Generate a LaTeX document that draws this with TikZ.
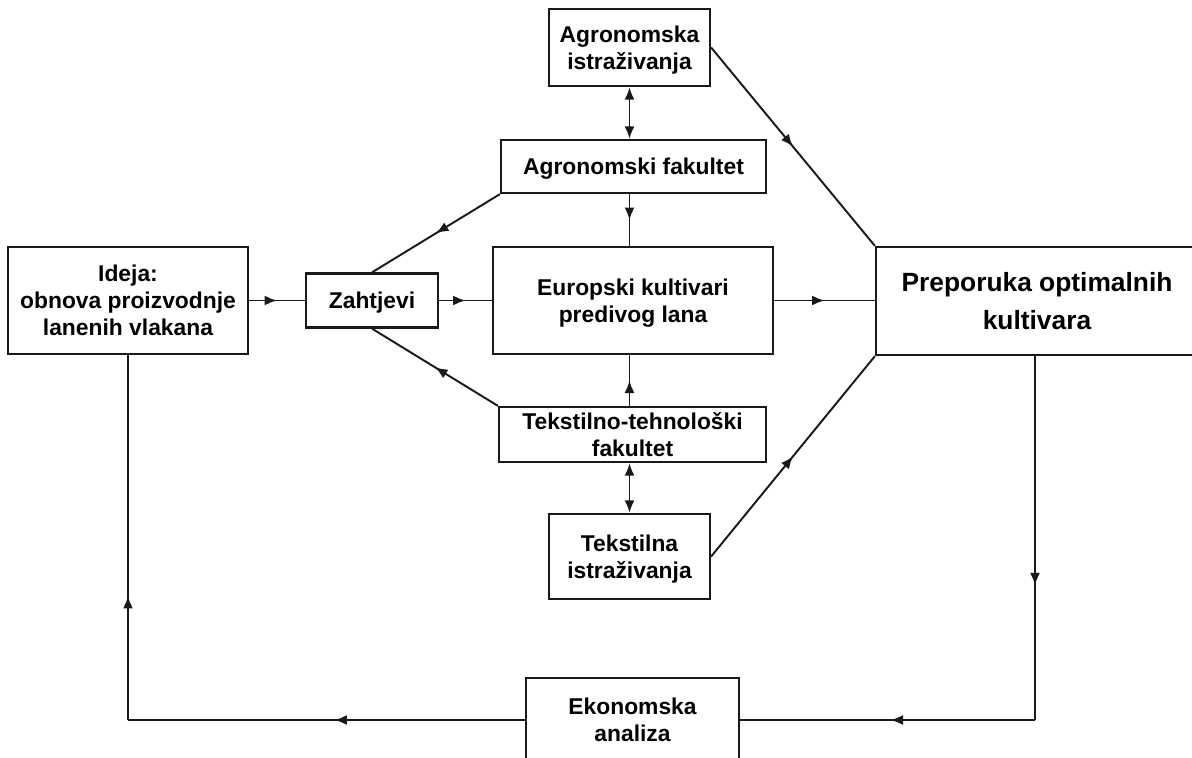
\documentclass[tikz,border=0pt]{standalone}
\usepackage{fontspec}
\setmainfont{Liberation Sans}
\usetikzlibrary{arrows.meta,decorations.markings}
\definecolor{ink}{RGB}{25,25,25}

\begin{document}
\begin{tikzpicture}[x=0.02cm,y=-0.02cm,>={Latex[length=2.5mm,width=2mm]},
  box/.style={draw=ink,line width=1.3pt,inner sep=0pt,text depth=0pt,align=center,font=\fontsize{13}{15.4}\selectfont\bfseries},
  line/.style={draw=ink,line width=1.1pt},
  flow/.style={line,postaction={decorate},decoration={markings,mark=at position #1 with {\arrow{>}}}},
  flow/.default=0.5]
\useasboundingbox (0,0) rectangle (1192,757);
% boxes
\node[box,minimum width=4.8cm,minimum height=2.14cm] (ideja) at (128,300.5) {Ideja:\\obnova proizvodnje\\lanenih vlakana};
\node[box,minimum width=2.64cm,minimum height=1.08cm] (zaht) at (372,300.5) {Zahtjevi};
\node[box,minimum width=5.6cm,minimum height=2.14cm] (europ) at (633,300.5) {Europski kultivari\\predivog lana};
\node[box,minimum width=5.3cm,minimum height=1.06cm] (agfak) at (633.5,166.5) {Agronomski fakultet};
\node[box,minimum width=3.22cm,minimum height=1.54cm] (agistr) at (629.5,47.5) {Agronomska\\istraživanja};
\node[box,minimum width=5.34cm,minimum height=1.1cm] (tekfak) at (632.5,434.5) {Tekstilno-tehnološki\\fakultet};
\node[box,minimum width=3.22cm,minimum height=1.7cm] (tekistr) at (629.5,556.5) {Tekstilna\\istraživanja};
\node[box,minimum width=6.44cm,minimum height=2.16cm,font=\fontsize{15}{22}\selectfont\bfseries] (prep) at (1037,301) {Preporuka optimalnih\\kultivara};
\node[box,minimum width=4.26cm,minimum height=1.68cm] (ekon) at (632.5,720) {Ekonomska\\analiza};
\coordinate (rb) at (1035,720);
\coordinate (lb) at (ideja.south |- ekon);
% connectors
\draw[flow] (ideja) -- (zaht);
\draw[flow] (zaht) -- (europ);
\draw[flow] (europ.east) -- (europ.east -| prep.west);
\draw[line,<->] (agistr) -- (agfak.north -| agistr);
\draw[flow] (agfak.south -| agistr) -- (europ.north -| agistr);
\draw[flow] (tekfak.north -| tekistr) -- (europ.south -| tekistr);
\draw[line,<->] (tekfak.south -| tekistr) -- (tekistr);
\draw[flow] (agfak.south west) -- (zaht.north);
\draw[flow] (tekfak.north west) -- (zaht.south);
\draw[flow] (agistr.east) -- (prep.north west);
\draw[flow] (tekistr.east) -- (prep.south west);
\draw[flow=0.63] (prep.south -| rb) -- (rb);
\draw[flow=0.49] (rb) -- (ekon.east);
\draw[flow=0.48] (ekon.west) -- (lb);
\draw[flow=0.34] (lb) -- (ideja.south);
\end{tikzpicture}
\end{document}
